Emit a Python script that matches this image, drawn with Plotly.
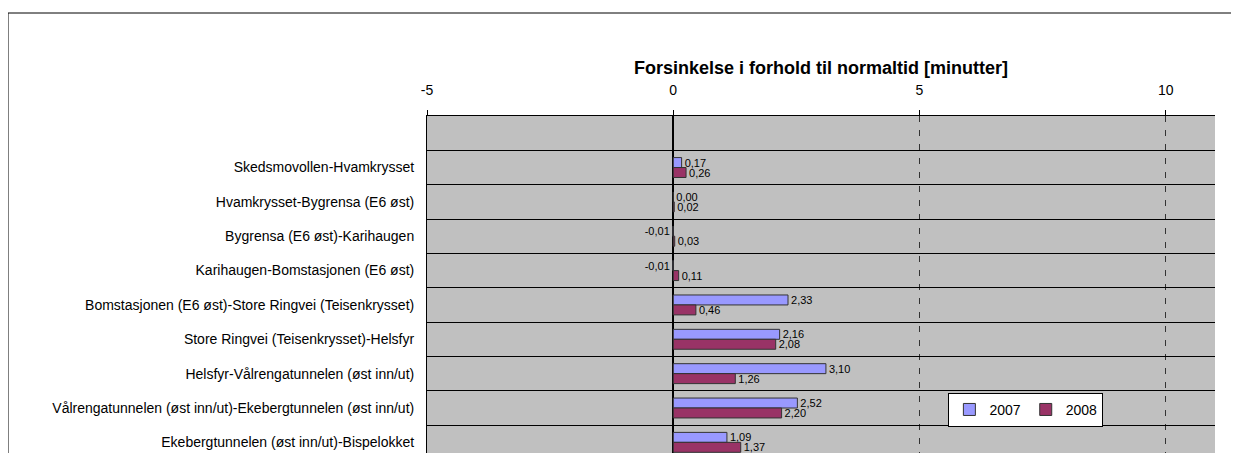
import plotly.graph_objects as go

# categories, top to bottom (first row is empty in the original chart)
routes = [
    " ",
    "Skedsmovollen-Hvamkrysset",
    "Hvamkrysset-Bygrensa (E6 øst)",
    "Bygrensa (E6 øst)-Karihaugen",
    "Karihaugen-Bomstasjonen (E6 øst)",
    "Bomstasjonen (E6 øst)-Store Ringvei (Teisenkrysset)",
    "Store Ringvei (Teisenkrysset)-Helsfyr",
    "Helsfyr-Vålrengatunnelen (øst inn/ut)",
    "Vålrengatunnelen (øst inn/ut)-Ekebergtunnelen (øst inn/ut)",
    "Ekebergtunnelen (øst inn/ut)-Bispelokket",
]
delay_2007 = [None, 0.17, 0.00, -0.01, -0.01, 2.33, 2.16, 3.10, 2.52, 1.09]
delay_2008 = [None, 0.26, 0.02, 0.03, 0.11, 0.46, 2.08, 1.26, 2.20, 1.37]
x_ticks = [-5, 0, 5, 10]

FONT = "Arial, Liberation Sans, sans-serif"
# page body has an 8px margin, so the figure is drawn 8px smaller/shifted
W, H = 1231, 445


def fmt(vals):
    return ["" if v is None else f"{v:.2f}".replace(".", ",") for v in vals]


fig = go.Figure()
for name, vals, color in [("2007", delay_2007, "#9999FF"), ("2008", delay_2008, "#993366")]:
    fig.add_trace(
        go.Bar(
            y=routes, x=vals, name=name, orientation="h",
            marker=dict(color=color, line=dict(color="#333333", width=1)),
            text=fmt(vals), textposition="outside", cliponaxis=False,
            constraintext="none",
            textfont=dict(family=FONT, size=11, color="#000000"),
        )
    )

fig.update_layout(
    width=W, height=H,
    margin=dict(l=419, r=24, t=108, b=0),
    paper_bgcolor="white", plot_bgcolor="#C0C0C0",
    barmode="group", bargap=0.42, bargroupgap=0,
    font=dict(family=FONT, size=14, color="#000000"),
    title=dict(
        text="<b>Forsinkelse i forhold til normaltid [minutter]</b>",
        font=dict(size=18, family=FONT, color="#000000"),
        x=0.5, xref="paper", xanchor="center",
        y=1 - 60 / H, yref="container", yanchor="middle",
    ),
    legend=dict(
        orientation="h", x=0.76, y=0.128, xanchor="center", yanchor="middle",
        bgcolor="white", bordercolor="#000000", borderwidth=1,
        font=dict(size=14, family=FONT), itemwidth=30, tracegroupgap=0,
    ),
    showlegend=True,
    xaxis=dict(
        side="top", range=[-5, 11], tickvals=x_ticks,
        ticktext=[str(t) for t in x_ticks],
        ticks="outside", ticklen=5, tickcolor="#000000",
        showgrid=True, gridcolor="#333333", griddash="6px,8px", gridwidth=1,
        zeroline=True, zerolinecolor="#000000", zerolinewidth=2,
        showline=True, linecolor="#000000", linewidth=1, mirror=True,
        ticklabelstandoff=9, fixedrange=True,
    ),
    yaxis=dict(
        categoryorder="array", categoryarray=routes,
        range=[9.31, -0.5], tickson="boundaries",
        showgrid=True, gridcolor="#000000", gridwidth=1,
        ticks="", ticklabelstandoff=9,
        showline=True, linecolor="#000000", linewidth=1,
        zeroline=False, fixedrange=True,
    ),
    yaxis2=dict(
        overlaying="y", matches="y", anchor="free", position=5 / 16,
        showticklabels=False, ticks="inside", ticklen=3, tickcolor="#000000",
        tickson="boundaries", showgrid=False, showline=False,
        categoryorder="array", categoryarray=routes,
    ),
)

# outer chart frame (extends past the right and bottom edges of the view)
fig.add_shape(
    type="rect", xref="paper", yref="paper",
    x0=(0 - 419) / 788, x1=1.2, y0=-0.2, y1=(H - 5) / 337,
    line=dict(color="#000000", width=1), fillcolor="rgba(0,0,0,0)", layer="below",
)

fig.write_html("out.html")
